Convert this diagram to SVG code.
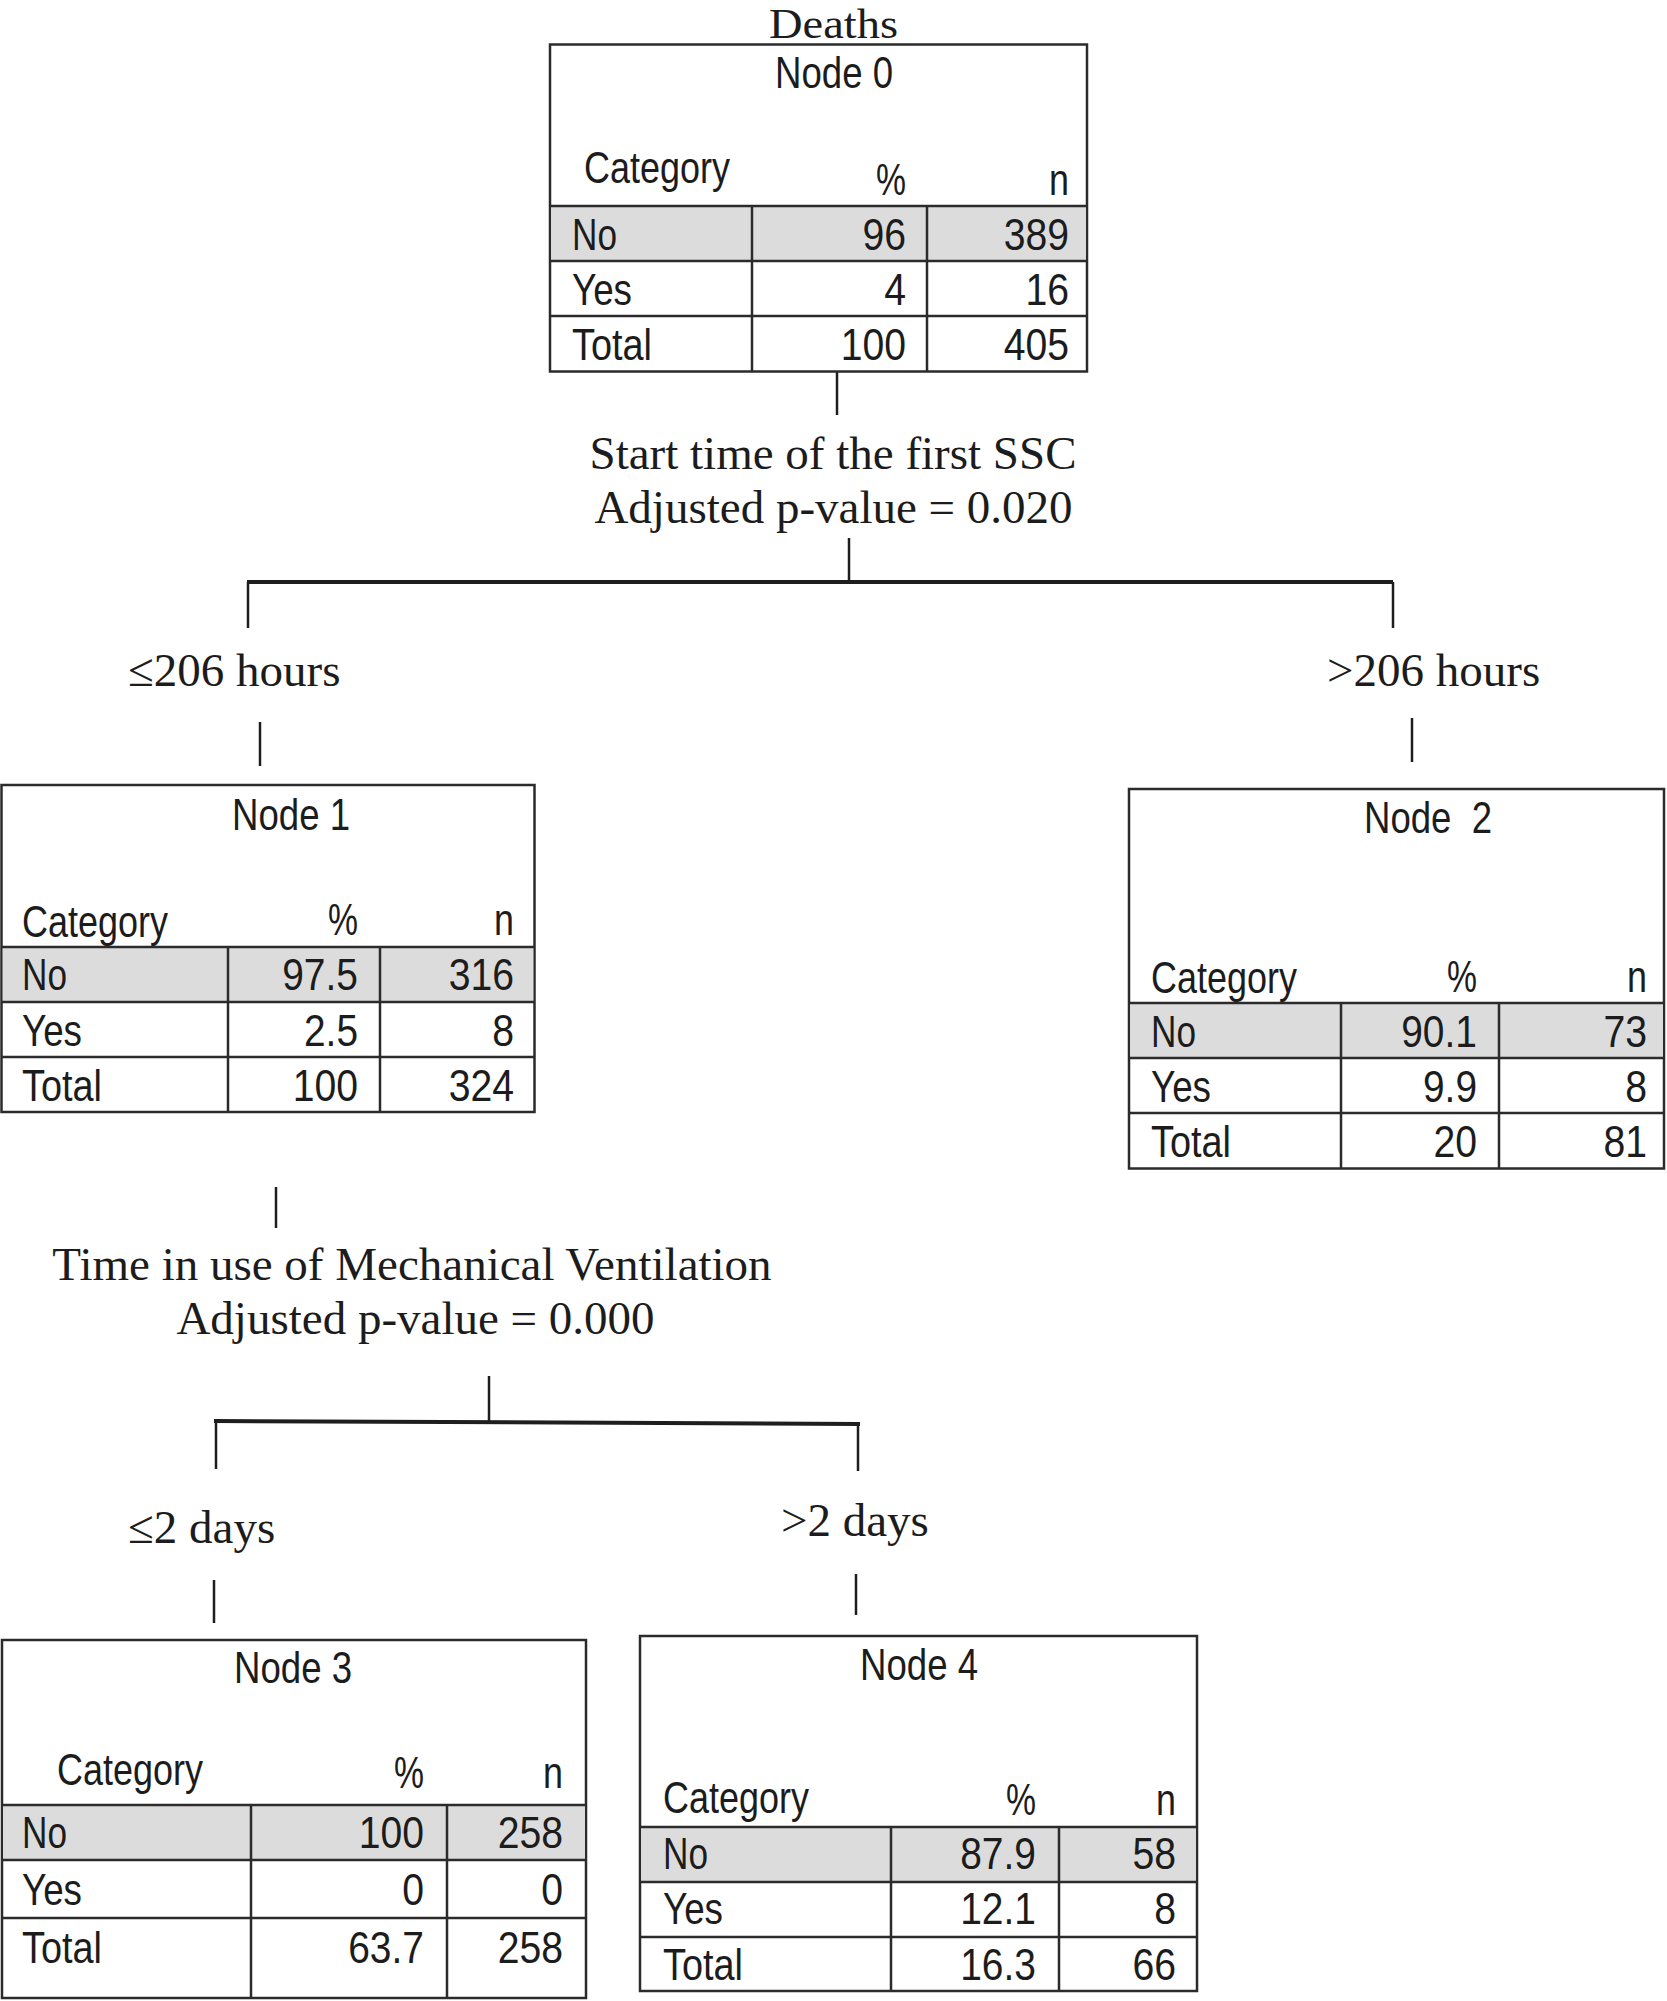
<svg xmlns="http://www.w3.org/2000/svg" width="1667" height="2001" viewBox="0 0 1667 2001">
<style>
.bg{fill:#ffffff}
.box{fill:#ffffff;stroke:#2b2b2b;stroke-width:2.5}
.hl{fill:#dcdcdd;stroke:none}
.grid{stroke:#2b2b2b;stroke-width:2.5;fill:none}
.t{font-family:"Liberation Sans Narrow","Liberation Sans",Arial,sans-serif;font-size:44px;fill:#1c1c1c}
.e{text-anchor:end}
.m{text-anchor:middle}
.s{font-family:"Liberation Serif","Times New Roman",serif;font-size:47px;fill:#1c1c1c}
.c{stroke:#1e1e1e;stroke-width:2.5;fill:none}
.bar{stroke:#1e1e1e;stroke-width:4;fill:none}
</style>
<rect class="bg" x="0" y="0" width="1667" height="2001"/>

<g id="connectors">
  <line class="c" x1="837" y1="372" x2="837" y2="415"/>
  <line class="c" x1="849" y1="538" x2="849" y2="582"/>
  <line class="bar" x1="247" y1="582" x2="1393" y2="582"/>
  <line class="c" x1="248" y1="582" x2="248" y2="628"/>
  <line class="c" x1="1393" y1="582" x2="1393" y2="628"/>
  <line class="c" x1="260" y1="722" x2="260" y2="766"/>
  <line class="c" x1="1412" y1="718" x2="1412" y2="762"/>
  <line class="c" x1="276" y1="1187" x2="276" y2="1228"/>
  <line class="c" x1="489" y1="1376" x2="489" y2="1421"/>
  <line class="bar" x1="214" y1="1421" x2="860" y2="1424"/>
  <line class="c" x1="216" y1="1423" x2="216" y2="1469"/>
  <line class="c" x1="858" y1="1426" x2="858" y2="1471"/>
  <line class="c" x1="214" y1="1580" x2="214" y2="1623"/>
  <line class="c" x1="856" y1="1574" x2="856" y2="1615"/>
</g>

<g id="labels">
  <text class="s m" x="833.5" y="38" style="font-size:42px" textLength="129" lengthAdjust="spacingAndGlyphs">Deaths</text>
  <text class="s m" x="833" y="469">Start time of the first SSC</text>
  <text class="s m" x="833.5" y="523">Adjusted p-value = 0.020</text>
  <text class="s" x="128" y="686">≤206 hours</text>
  <text class="s" x="1327" y="686">&gt;206 hours</text>
  <text class="s m" x="412" y="1280">Time in use of Mechanical Ventilation</text>
  <text class="s m" x="415.5" y="1334">Adjusted p-value = 0.000</text>
  <text class="s" x="128" y="1543">≤2 days</text>
  <text class="s" x="781" y="1536">&gt;2 days</text>
</g>

<g id="node0">
  <rect class="box" x="550" y="44.5" width="537" height="327"/>
  <rect class="hl" x="551.2" y="206" width="534.6" height="55"/>
  <path class="grid" d="M550 206H1087M550 261H1087M550 316H1087M752 206V371.5M927 206V371.5"/>
  <text class="t m" x="834" y="88" textLength="118" lengthAdjust="spacingAndGlyphs">Node 0</text>
  <text class="t" x="584" y="183" textLength="146" lengthAdjust="spacingAndGlyphs">Category</text>
  <text class="t e" x="906" y="195" textLength="30" lengthAdjust="spacingAndGlyphs">%</text>
  <text class="t e" x="1069" y="195" textLength="20" lengthAdjust="spacingAndGlyphs">n</text>
  <text class="t" x="572" y="250" textLength="45" lengthAdjust="spacingAndGlyphs">No</text>
  <text class="t e" x="906" y="250" textLength="43.6" lengthAdjust="spacingAndGlyphs">96</text>
  <text class="t e" x="1069" y="250" textLength="65.3" lengthAdjust="spacingAndGlyphs">389</text>
  <text class="t" x="572" y="305" textLength="60" lengthAdjust="spacingAndGlyphs">Yes</text>
  <text class="t e" x="906" y="305" textLength="21.8" lengthAdjust="spacingAndGlyphs">4</text>
  <text class="t e" x="1069" y="305" textLength="43.6" lengthAdjust="spacingAndGlyphs">16</text>
  <text class="t" x="572" y="360" textLength="80" lengthAdjust="spacingAndGlyphs">Total</text>
  <text class="t e" x="906" y="360" textLength="65.3" lengthAdjust="spacingAndGlyphs">100</text>
  <text class="t e" x="1069" y="360" textLength="65.3" lengthAdjust="spacingAndGlyphs">405</text>
</g>

<g id="node1">
  <rect class="box" x="1.5" y="785" width="533" height="327"/>
  <rect class="hl" x="2.7" y="947" width="530.6" height="55"/>
  <path class="grid" d="M1.5 947H534.5M1.5 1002H534.5M1.5 1057H534.5M228 947V1112M380 947V1112"/>
  <text class="t m" x="291" y="830" textLength="118" lengthAdjust="spacingAndGlyphs">Node 1</text>
  <text class="t" x="22" y="937" textLength="146" lengthAdjust="spacingAndGlyphs">Category</text>
  <text class="t e" x="358" y="935" textLength="30" lengthAdjust="spacingAndGlyphs">%</text>
  <text class="t e" x="514" y="935" textLength="20" lengthAdjust="spacingAndGlyphs">n</text>
  <text class="t" x="22" y="990" textLength="45" lengthAdjust="spacingAndGlyphs">No</text>
  <text class="t e" x="358" y="990" textLength="75.8" lengthAdjust="spacingAndGlyphs">97.5</text>
  <text class="t e" x="514" y="990" textLength="65.3" lengthAdjust="spacingAndGlyphs">316</text>
  <text class="t" x="22" y="1046" textLength="60" lengthAdjust="spacingAndGlyphs">Yes</text>
  <text class="t e" x="358" y="1046" textLength="54" lengthAdjust="spacingAndGlyphs">2.5</text>
  <text class="t e" x="514" y="1046" textLength="21.8" lengthAdjust="spacingAndGlyphs">8</text>
  <text class="t" x="22" y="1101" textLength="80" lengthAdjust="spacingAndGlyphs">Total</text>
  <text class="t e" x="358" y="1101" textLength="65.3" lengthAdjust="spacingAndGlyphs">100</text>
  <text class="t e" x="514" y="1101" textLength="65.3" lengthAdjust="spacingAndGlyphs">324</text>
</g>

<g id="node2">
  <rect class="box" x="1129" y="789" width="535" height="379.5"/>
  <rect class="hl" x="1130.2" y="1003" width="532.6" height="55"/>
  <path class="grid" d="M1129 1003H1664M1129 1058H1664M1129 1113H1664M1341 1003V1168.5M1499 1003V1168.5"/>
  <text class="t m" x="1428" y="833" textLength="128" lengthAdjust="spacingAndGlyphs" xml:space="preserve">Node  2</text>
  <text class="t" x="1151" y="993" textLength="146" lengthAdjust="spacingAndGlyphs">Category</text>
  <text class="t e" x="1477" y="992" textLength="30" lengthAdjust="spacingAndGlyphs">%</text>
  <text class="t e" x="1647" y="992" textLength="20" lengthAdjust="spacingAndGlyphs">n</text>
  <text class="t" x="1151" y="1047" textLength="45" lengthAdjust="spacingAndGlyphs">No</text>
  <text class="t e" x="1477" y="1047" textLength="75.8" lengthAdjust="spacingAndGlyphs">90.1</text>
  <text class="t e" x="1647" y="1047" textLength="43.6" lengthAdjust="spacingAndGlyphs">73</text>
  <text class="t" x="1151" y="1102" textLength="60" lengthAdjust="spacingAndGlyphs">Yes</text>
  <text class="t e" x="1477" y="1102" textLength="54" lengthAdjust="spacingAndGlyphs">9.9</text>
  <text class="t e" x="1647" y="1102" textLength="21.8" lengthAdjust="spacingAndGlyphs">8</text>
  <text class="t" x="1151" y="1157" textLength="80" lengthAdjust="spacingAndGlyphs">Total</text>
  <text class="t e" x="1477" y="1157" textLength="43.6" lengthAdjust="spacingAndGlyphs">20</text>
  <text class="t e" x="1647" y="1157" textLength="43.6" lengthAdjust="spacingAndGlyphs">81</text>
</g>

<g id="node3">
  <rect class="box" x="2" y="1640" width="584" height="358"/>
  <rect class="hl" x="3.2" y="1805" width="581.6" height="55"/>
  <path class="grid" d="M2 1805H586M2 1860H586M2 1918H586M251 1805V1998M447 1805V1998"/>
  <text class="t m" x="293" y="1683" textLength="118" lengthAdjust="spacingAndGlyphs">Node 3</text>
  <text class="t" x="57" y="1785" textLength="146" lengthAdjust="spacingAndGlyphs">Category</text>
  <text class="t e" x="424" y="1788" textLength="30" lengthAdjust="spacingAndGlyphs">%</text>
  <text class="t e" x="563" y="1788" textLength="20" lengthAdjust="spacingAndGlyphs">n</text>
  <text class="t" x="22" y="1848" textLength="45" lengthAdjust="spacingAndGlyphs">No</text>
  <text class="t e" x="424" y="1848" textLength="65.3" lengthAdjust="spacingAndGlyphs">100</text>
  <text class="t e" x="563" y="1848" textLength="65.3" lengthAdjust="spacingAndGlyphs">258</text>
  <text class="t" x="22" y="1905" textLength="60" lengthAdjust="spacingAndGlyphs">Yes</text>
  <text class="t e" x="424" y="1905" textLength="21.8" lengthAdjust="spacingAndGlyphs">0</text>
  <text class="t e" x="563" y="1905" textLength="21.8" lengthAdjust="spacingAndGlyphs">0</text>
  <text class="t" x="22" y="1963" textLength="80" lengthAdjust="spacingAndGlyphs">Total</text>
  <text class="t e" x="424" y="1963" textLength="75.8" lengthAdjust="spacingAndGlyphs">63.7</text>
  <text class="t e" x="563" y="1963" textLength="65.3" lengthAdjust="spacingAndGlyphs">258</text>
</g>

<g id="node4">
  <rect class="box" x="640" y="1636" width="557" height="355"/>
  <rect class="hl" x="641.2" y="1827" width="554.6" height="55"/>
  <path class="grid" d="M640 1827H1197M640 1882H1197M640 1937H1197M891 1827V1991M1059 1827V1991"/>
  <text class="t m" x="919" y="1680" textLength="118" lengthAdjust="spacingAndGlyphs">Node 4</text>
  <text class="t" x="663" y="1813" textLength="146" lengthAdjust="spacingAndGlyphs">Category</text>
  <text class="t e" x="1036" y="1815" textLength="30" lengthAdjust="spacingAndGlyphs">%</text>
  <text class="t e" x="1176" y="1815" textLength="20" lengthAdjust="spacingAndGlyphs">n</text>
  <text class="t" x="663" y="1869" textLength="45" lengthAdjust="spacingAndGlyphs">No</text>
  <text class="t e" x="1036" y="1869" textLength="75.8" lengthAdjust="spacingAndGlyphs">87.9</text>
  <text class="t e" x="1176" y="1869" textLength="43.6" lengthAdjust="spacingAndGlyphs">58</text>
  <text class="t" x="663" y="1924" textLength="60" lengthAdjust="spacingAndGlyphs">Yes</text>
  <text class="t e" x="1036" y="1924" textLength="75.8" lengthAdjust="spacingAndGlyphs">12.1</text>
  <text class="t e" x="1176" y="1924" textLength="21.8" lengthAdjust="spacingAndGlyphs">8</text>
  <text class="t" x="663" y="1980" textLength="80" lengthAdjust="spacingAndGlyphs">Total</text>
  <text class="t e" x="1036" y="1980" textLength="75.8" lengthAdjust="spacingAndGlyphs">16.3</text>
  <text class="t e" x="1176" y="1980" textLength="43.6" lengthAdjust="spacingAndGlyphs">66</text>
</g>
</svg>
